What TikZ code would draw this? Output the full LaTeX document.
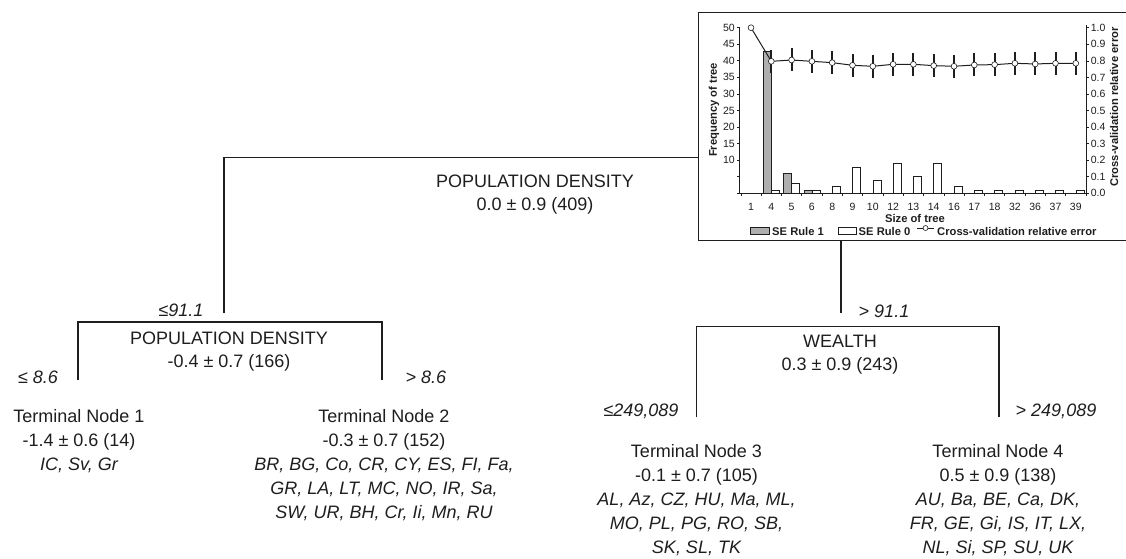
\documentclass[tikz,border=0pt]{standalone}
\usepackage{fontspec}
\setmainfont{Liberation Sans}
\usetikzlibrary{positioning}

\definecolor{ink}{RGB}{30,30,30}
\definecolor{barfill}{RGB}{175,175,175}

\tikzset{
	branch/.style={draw=ink, line width=1.1pt},
	split/.style={align=center, text=ink, inner sep=0pt, font=\fontsize{18}{23}\selectfont},
	leaf/.style={align=center, text=ink, inner sep=0pt, font=\fontsize{18}{24}\selectfont},
	cut/.style={text=ink, inner sep=0pt, font=\fontsize{18}{22}\selectfont\itshape},
	ticklab/.style={text=ink, inner sep=0pt, font=\fontsize{10.5}{12}\selectfont},
	axlab/.style={text=ink, inner sep=0pt, font=\fontsize{11.2}{13}\selectfont\bfseries},
	ruleone/.style={draw=ink, fill=barfill, line width=0.6pt},
	rulezero/.style={draw=ink, fill=white, line width=0.6pt},
	cvpoint/.style={circle, draw=ink, fill=white, line width=0.6pt, inner sep=0pt, minimum size=5.8pt},
}
\newcommand{\ctry}{\itshape}

\begin{document}
\begin{tikzpicture}[x=1pt,y=-1pt]
	\useasboundingbox (0,0) rectangle (1126,558);

	% inset: frequency of tree size and cross-validation error
	\draw[draw=ink, line width=0.8pt] (1126,12) -- (698,12) -- (698,240.5) -- (1126,240.5);
	\coordinate (inset-w) at (698,157.5);
	\coordinate (inset-s) at (841,240.5);

	\draw[draw=ink, line width=0.7pt] (739.5,27) -- (739.5,193.3) -- (1086,193.3) -- (1086,25);
	\foreach \v in {0,5,...,50}
		\draw[draw=ink, line width=0.6pt] (739.5,{193.3-3.313*\v}) -- ++(-3,0);
	\foreach \v in {10,15,...,50}
		\node[ticklab, anchor=east] at (735,{193.3-3.313*\v}) {\v};
	\foreach \r in {0,...,9}
		\draw[draw=ink, line width=0.6pt] (1086,{193.3-16.56*\r}) -- ++(3,0) node[ticklab, anchor=west, xshift=1.5pt] {0.\r};
	\draw[draw=ink, line width=0.6pt] (1086,27.7) -- ++(3,0) node[ticklab, anchor=west, xshift=1.5pt] {1.0};

	\foreach \k in {0,...,17}
		\draw[draw=ink, line width=0.6pt] ({740.85+20.3*\k},193.3) -- ++(0,3);
	\foreach \s [count=\i from 0] in {1,4,5,6,8,9,10,12,13,14,16,17,18,32,36,37,39}
		\node[ticklab] at ({751+20.3*\i},206.5) {\s};

	\foreach \i/\h in {1/43,2/6,3/1}
		\draw[ruleone] ({751+20.3*\i-8},193.3) rectangle ({751+20.3*\i},{193.3-3.313*\h});
	\foreach \i/\h in {1/1,2/3,3/1,4/2,5/8,6/4,7/9,8/5,9/9,10/2,11/1,12/1,13/1,14/1,15/1,16/1}
		\draw[rulezero] ({751+20.3*\i},193.3) rectangle ({751+20.3*\i+8},{193.3-3.313*\h});

	\foreach \i/\e in {0/1.0,1/0.797,2/0.805,3/0.797,4/0.789,5/0.773,6/0.767,7/0.779,8/0.779,9/0.771,10/0.767,11/0.775,12/0.777,13/0.785,14/0.781,15/0.785,16/0.785}
		\coordinate (cv\i) at ({751+20.3*\i},{193.3-165.6*\e});
	\draw[draw=ink, line width=1pt] (cv0) \foreach \i in {1,...,16} {-- (cv\i)};
	\foreach \i in {1,...,16}
		\draw[draw=ink, line width=2pt] ([yshift=11.5pt]cv\i) -- ([yshift=-11.5pt]cv\i);
	\foreach \i in {0,...,16}
		\node[cvpoint] (cvdot\i) at (cv\i) {};

	\node[axlab, rotate=90] (freqlab) at (714,110) {Frequency of tree};
	\node[axlab, rotate=90] (errlab) at (1114,107) {Cross-validation relative error};
	\node[axlab] (sizelab) at (915,218) {Size of tree};

	% legend
	\draw[ruleone] (750,227) rectangle (769,234);
	\node[axlab, anchor=west] (leg1) at (772,231) {SE Rule 1};
	\draw[rulezero] (838,227) rectangle (856,234);
	\node[axlab, anchor=west] (leg0) at (858.5,231) {SE Rule 0};
	\draw[draw=ink, line width=0.8pt] (917,228) -- (934,228);
	\node[cvpoint, minimum size=5pt] (legdot) at (925.5,228) {};
	\node[axlab, anchor=west] (legcv) at (937,231) {Cross-validation relative error};

	% root split
	\coordinate (root-w) at (224,157.5);
	\coordinate (lo-s) at (224,313);
	\draw[branch] (inset-w) -- (root-w) -- (lo-s);
	\node[split] (root) at (535,195) {POPULATION DENSITY\\0.0 ± 0.9 (409)};
	\node[cut] (lo-cut) at (181,310) {≤91.1};

	% left split
	\coordinate (pd-w) at (78,322);
	\coordinate (pd-e) at (382,322);
	\coordinate (t1-n) at (78,380);
	\coordinate (t2-n) at (382,380);
	\draw[branch] (t1-n) -- (pd-w) -- (pd-e) -- (t2-n);
	\node[split] (pd) at (229,351.5) {POPULATION DENSITY\\-0.4 ± 0.7 (166)};
	\node[cut] (t1-cut) at (38,377) {≤ 8.6};
	\node[cut] (t2-cut) at (426,377) {> 8.6};
	\node[leaf] (t1) at (79,441) {Terminal Node 1\\-1.4 ± 0.6 (14)\\\ctry IC, Sv, Gr};
	\node[leaf] (t2) at (384,465) {Terminal Node 2\\-0.3 ± 0.7 (152)\\\ctry BR, BG, Co, CR, CY, ES, FI, Fa,\\\ctry GR, LA, LT, MC, NO, IR, Sa,\\\ctry SW, UR, BH, Cr, Ii, Mn, RU};

	% right split
	\coordinate (hi-s) at (841,313);
	\draw[branch] (inset-s) -- (hi-s);
	\node[cut] (hi-cut) at (884,311) {> 91.1};
	\coordinate (w-w) at (696.5,326.5);
	\coordinate (w-e) at (999,326.5);
	\coordinate (t3-n) at (696.5,417);
	\coordinate (t4-n) at (999,417);
	\draw[branch] (t3-n) -- (w-w) -- (w-e) -- (t4-n);
	\node[split] (wealth) at (840,354.5) {WEALTH\\0.3 ± 0.9 (243)};
	\node[cut] (t3-cut) at (641,411) {≤249,089};
	\node[cut] (t4-cut) at (1056,411) {> 249,089};
	\node[leaf] (t3) at (696.5,500) {Terminal Node 3\\-0.1 ± 0.7 (105)\\\ctry AL, Az, CZ, HU, Ma, ML,\\\ctry MO, PL, PG, RO, SB,\\\ctry SK, SL, TK};
	\node[leaf] (t4) at (998,500) {Terminal Node 4\\0.5 ± 0.9 (138)\\\ctry AU, Ba, BE, Ca, DK,\\\ctry FR, GE, Gi, IS, IT, LX,\\\ctry NL, Si, SP, SU, UK};
\end{tikzpicture}
\end{document}
